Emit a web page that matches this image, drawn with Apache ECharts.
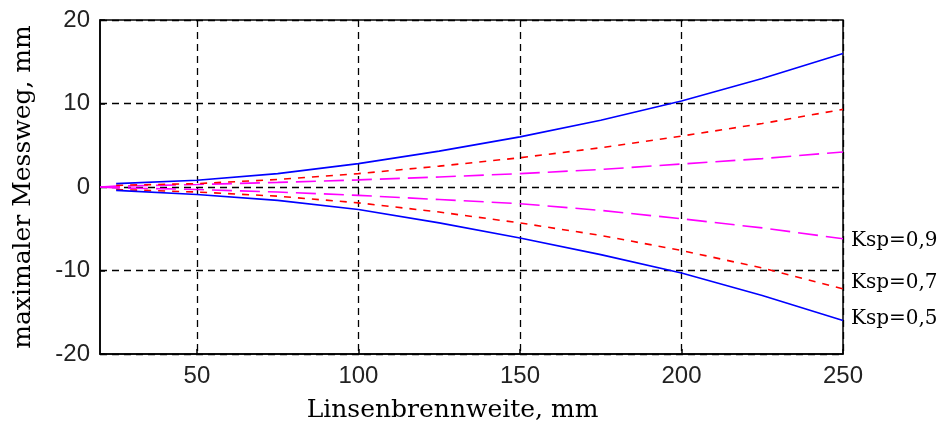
<!DOCTYPE html>
<html>
<head>
<meta charset="utf-8">
<script src="https://cdn.jsdelivr.net/npm/echarts@6/dist/echarts.min.js"></script>
<style>
  html, body { margin: 0; padding: 0; background: #fff; }
  #chart { width: 945px; height: 429px; }
</style>
</head>
<body>
<div id="chart"></div>
<script>
// Focal lengths (mm) at which the measuring range was evaluated
const focal = [25, 50, 75, 100, 125, 150, 175, 200, 225, 250];
const focalMag = [20, 25, 50, 75, 100, 125, 150, 175, 200, 225, 250];

// Upper / lower limits of the maximum measuring path (mm) per Ksp
const ksp05Up  = [0.4, 0.8, 1.6, 2.8, 4.3, 6.0, 8.0, 10.3, 13.0, 16.0];
const ksp05Low = [-0.4, -0.9, -1.6, -2.7, -4.3, -6.1, -8.1, -10.3, -13.0, -16.0];
const ksp07Up  = [0.2, 0.4, 0.9, 1.6, 2.5, 3.5, 4.7, 6.1, 7.6, 9.3];
const ksp07Low = [-0.3, -0.6, -1.1, -1.9, -3.0, -4.3, -5.8, -7.6, -9.7, -12.2];
const ksp09Up  = [0, 0.1, 0.3, 0.55, 0.85, 1.2, 1.6, 2.1, 2.75, 3.4, 4.2];
const ksp09Low = [0, -0.1, -0.3, -0.6, -1.0, -1.5, -2.0, -2.8, -3.8, -4.9, -6.2];

const xTicks = [50, 100, 150, 200, 250];
const yTicks = [-20, -10, 0, 10, 20];
const curveNames = ['Ksp=0,5', 'Ksp=0,7', 'Ksp=0,9'];

const pairs = (xs, ys) => xs.map((x, i) => [x, ys[i]]);

const serif = '"DejaVu Serif", "Liberation Serif", serif';
const sans = '"Liberation Sans", Arial, sans-serif';

const gridLine = { show: true, lineStyle: { color: '#000', width: 1.3, type: [7, 5] } };

function curve(name, xs, ys, color, dash, labelText, labelOffset) {
  const s = {
    name: name,
    type: 'line',
    data: pairs(xs, ys),
    showSymbol: false,
    symbol: 'none',
    silent: true,
    z: 3,
    lineStyle: { color: color, width: 1.6, type: dash }
  };
  if (labelText) {
    s.endLabel = {
      show: true,
      formatter: labelText,
      color: '#000',
      fontFamily: serif,
      fontSize: 20,
      distance: 6,
      offset: labelOffset
    };
  }
  return s;
}

const chart = echarts.init(document.getElementById('chart'), null, { renderer: 'canvas' });
chart.setOption({
  animation: false,
  backgroundColor: '#fff',
  grid: {
    left: 100, right: 102, top: 20, bottom: 75,
    show: true, borderColor: '#000', borderWidth: 1.5, backgroundColor: 'transparent'
  },
  xAxis: {
    type: 'value',
    min: 20, max: 250,
    name: 'Linsenbrennweite, mm',
    nameLocation: 'middle',
    nameGap: 44,
    nameTextStyle: { fontFamily: serif, fontSize: 25, color: '#000', padding: [0, 38, 0, 0] },
    axisLine: { show: true, onZero: false, lineStyle: { color: '#000', width: 1.5 } },
    axisTick: { show: true, inside: true, length: 5, customValues: xTicks, lineStyle: { color: '#000', width: 1.5 } },
    axisLabel: { customValues: xTicks, fontFamily: sans, fontSize: 24, color: '#222', margin: 10 },
    splitLine: gridLine
  },
  yAxis: {
    type: 'value',
    min: yTicks[0], max: yTicks[yTicks.length - 1], interval: 10,
    name: 'maximaler Messweg, mm',
    nameLocation: 'middle',
    nameGap: 64,
    nameTextStyle: { fontFamily: serif, fontSize: 25, color: '#000' },
    axisLine: { show: true, lineStyle: { color: '#000', width: 1.5 } },
    axisTick: { show: true, inside: true, length: 5, lineStyle: { color: '#000', width: 1.5 } },
    axisLabel: { fontFamily: sans, fontSize: 24, color: '#222', margin: 10 },
    splitLine: gridLine
  },
  series: [
    curve('ksp09Up', focalMag, ksp09Up, '#ff00ff', [20, 8]),
    curve('ksp09Low', focalMag, ksp09Low, '#ff00ff', [20, 8], curveNames[2], [2, 2]),
    curve('ksp07Up', focal, ksp07Up, '#ff0000', [7, 7]),
    curve('ksp07Low', focal, ksp07Low, '#ff0000', [7, 7], curveNames[1], [2, -6]),
    curve('ksp05Up', focal, ksp05Up, '#0000ff', 'solid'),
    curve('ksp05Low', focal, ksp05Low, '#0000ff', 'solid', curveNames[0], [2, -2])
  ]
});
</script>
</body>
</html>
